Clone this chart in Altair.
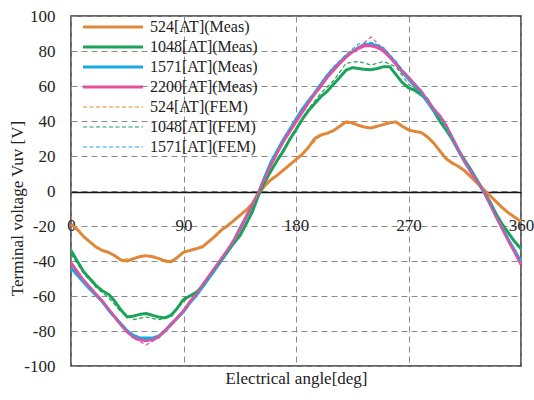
import altair as alt
import pandas as pd

# ---------------- data ----------------
angle_meas = list(range(0, 361, 5))
meas_524 = [-19, -22, -26, -29, -32, -34, -35, -37, -39.5, -40, -38.7, -37.5, -37, -37.5, -38.5, -40, -40.5, -38, -35, -34,
            -33, -32, -29, -26, -22.5, -20, -17, -14, -11, -7.5, -1.5, 3, 6.5, 9, 12, 15, 18, 21, 25, 30,
            32, 33, 34.5, 37, 39.5, 39, 37.5, 36.5, 36, 37, 38, 39, 39.5, 37, 35, 34, 33.5, 31, 27.5, 23,
            18.5, 16, 14, 11.5, 8, 4.5, 1, -2.5, -6, -9.5, -12.5, -15, -17.5]
meas_1048 = [-34, -40, -46, -50, -54, -57, -59, -63, -68, -72, -71.5, -70.5, -70, -71, -72, -72.5, -71, -67, -62, -60,
             -58, -55, -50, -45, -40, -35, -30, -25.7, -19, -12, -2.5, 5, 11.5, 17.5, 23, 29.5, 35, 41, 46, 50,
             54, 57, 61, 65, 69, 70.5, 70, 69.5, 69.3, 70, 71, 71, 66.5, 62, 59, 57.5, 55, 52.5, 46, 40,
             35, 29.5, 23, 17.5, 12, 6, 0, -6, -13, -19, -24, -29, -33]
meas_1571 = [-44, -48, -52, -56, -59.5, -63, -68, -72, -76, -80, -82.5, -84, -84, -84, -83, -80, -76, -72.5, -69, -64,
             -60, -55, -50, -45, -39.5, -34.5, -29, -21.5, -15, -8, -1, 8, 16.5, 23, 29.5, 35, 41, 46.7, 51.5, 56,
             61, 66, 70, 73.5, 77, 79.5, 82, 83.5, 84, 83, 81, 77, 73, 68, 64, 60, 56, 51, 46, 42.5,
             37, 30, 23, 16.5, 11, 5.5, 0, -7, -14, -21, -28, -34, -40.5]
meas_2200 = [-41, -46, -51, -55, -59, -63, -67.5, -72, -76.5, -80.5, -83.5, -85, -85.5, -85, -83.5, -80, -76.5, -72.5, -68.5, -63.5,
             -59, -54, -49, -44, -39, -34, -28.5, -22, -15, -8, -1, 7, 15, 22, 28.5, 34, 39.5, 45, 50.5, 55.5,
             60, 65, 69, 73, 76.5, 79.5, 81.5, 83, 83, 82, 80, 76.5, 72.5, 68.5, 65, 61, 57, 52, 47, 43,
             37.5, 30.5, 23.5, 17, 11, 5.5, 0, -7, -14.5, -21.5, -28.5, -35, -42]

angle_fem = list(range(0, 361, 10))
fem_524 = [-19, -26, -32, -35.5, -39, -38.5, -37, -38.5, -40, -35, -33, -29, -22.5, -17, -11, -1, 6.5, 12, 18, 25,
           32, 34.5, 39, 37.5, 36, 38, 39.5, 35, 33.5, 27.5, 18.5, 14, 8, 1, -6, -12.5, -17.5]
fem_1048 = [-36, -47, -55, -61, -69, -73.5, -72, -73.5, -72, -63, -58, -50, -40, -30, -19, -2, 12, 24, 36, 47,
            56, 63, 73, 74, 72, 74, 71, 61, 56, 47, 36, 23.5, 12, 0, -13, -24, -34]
fem_1571 = [-44, -52, -60, -68, -76, -83, -85, -84, -77, -69, -60, -50, -40, -29, -15, -1, 17, 30, 42, 52,
            62, 71, 78, 84, 85, 82, 74, 65, 57, 47, 37.5, 23.5, 11.5, 0, -14, -28, -41]
fem_2200 = [-42, -51, -59, -67.5, -76.5, -84, -88, -84, -76.5, -68.5, -59, -49, -39, -28.5, -15, -1, 15, 28.5, 39.5, 50.5,
            60, 69, 76.5, 82, 88, 81, 72.5, 65, 57, 47, 37.5, 23.5, 11, 0, -14.5, -28.5, -42]

series_names = ["524[AT](Meas)", "1048[AT](Meas)", "1571[AT](Meas)", "2200[AT](Meas)",
                "524[AT](FEM)", "1048[AT](FEM)", "1571[AT](FEM)", "2200[AT](FEM)"]
legend_names = series_names[:7]
series_colors = ["#E0873A", "#1CA35A", "#1BA9E6", "#E5509C",
                 "#E0873A", "#1CA35A", "#1BA9E6", "#E5509C"]
series_dash = [[1, 0], [1, 0], [1, 0], [1, 0], [4, 2.5], [4, 2.5], [4, 2.5], [4, 2.5]]
series_width = [3, 3, 3, 3, 1.2, 1.2, 1.2, 1.2]

meas_values = [meas_524, meas_1048, meas_1571, meas_2200]
fem_values = [fem_524, fem_1048, fem_1571, fem_2200]

rows = []
for name, vals in zip(series_names[:4], meas_values):
    assert len(vals) == len(angle_meas), name
    for a, v in zip(angle_meas, vals):
        rows.append({"angle": a, "value": v, "series": name, "kind": "Meas"})
for name, vals in zip(series_names[4:], fem_values):
    assert len(vals) == len(angle_fem), name
    for a, v in zip(angle_fem, vals):
        rows.append({"angle": a, "value": v, "series": name, "kind": "FEM"})
df = pd.DataFrame(rows)

FONT = "Liberation Serif"
TXT = "#222222"

legend = alt.Legend(
    title=None, orient="none", legendX=7, legendY=3, values=legend_names,
    symbolType="M-10,0H10", symbolSize=36, symbolOffset=27, labelOffset=29,
    labelFont=FONT, labelFontSize=16, labelColor=TXT, rowPadding=4, padding=0,
    labelLimit=300,
)

x_enc = alt.X("angle:Q", scale=alt.Scale(domain=[0, 360], nice=False),
              axis=alt.Axis(values=[0, 90, 180, 270, 360], offset=-174, ticks=False,
                            domain=True, domainColor="#111111", domainWidth=1.3,
                            grid=True, gridDash=[6, 4], gridColor="#8a8a8a", gridWidth=1,
                            labelFont=FONT, labelFontSize=17, labelColor=TXT, labelPadding=25,
                            labelFlush=False, labelAngle=0, labelExpr="'' + datum.value",
                            title="Electrical angle[deg]", titleFont=FONT, titleFontSize=17,
                            titleFontWeight="normal", titleColor=TXT, titleX=225, titleY=186,
                            titleBaseline="middle", titleAlign="center"))
y_enc = alt.Y("value:Q", scale=alt.Scale(domain=[-100, 100], nice=False),
              axis=alt.Axis(values=list(range(-100, 101, 20)), ticks=False, domain=False,
                            grid=True, gridDash=[6, 4], gridColor="#8a8a8a", gridWidth=1,
                            labelFont=FONT, labelFontSize=17, labelColor=TXT, labelPadding=16,
                            labelExpr="'' + datum.value",
                            title="Terminal voltage Vuv [V]", titleFont=FONT, titleFontSize=17,
                            titleFontWeight="normal", titleColor=TXT, titleAngle=270,
                            titleX=-54, titleY=192, titleAlign="center", titleBaseline="middle"))

enc = dict(
    x=x_enc,
    y=y_enc,
    color=alt.Color("series:N", scale=alt.Scale(domain=series_names, range=series_colors), legend=legend),
    strokeDash=alt.StrokeDash("series:N", scale=alt.Scale(domain=series_names, range=series_dash), legend=legend),
    strokeWidth=alt.StrokeWidth("series:N", scale=alt.Scale(type="ordinal", domain=series_names, range=series_width),
                                legend=legend),
)

meas = alt.Chart(df).transform_filter(alt.datum.kind == "Meas").mark_line(strokeJoin="round").encode(**enc)
fem = alt.Chart(df).transform_filter(alt.datum.kind == "FEM").mark_line(strokeJoin="round").encode(**enc)

chart = alt.layer(meas, fem).properties(
    width=450, height=350,
    autosize=alt.AutoSizeParams(type="none"),
    padding={"left": 71, "top": 16, "right": 13, "bottom": 34},
    background="white",
).configure_view(stroke="#333333", strokeWidth=1.5)

chart.save("out.html", embed_options={"renderer": "svg", "actions": False})
